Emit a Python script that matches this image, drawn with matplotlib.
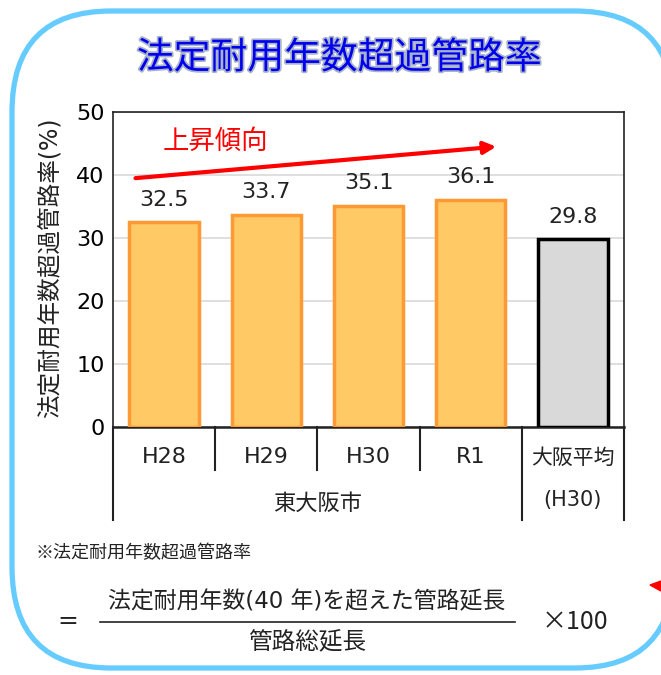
import numpy as np
import matplotlib
matplotlib.use("Agg")
from matplotlib import pyplot as plt
from matplotlib.patches import FancyBboxPatch, Polygon
import matplotlib.patheffects as pe
import matplotlib.transforms as mtransforms

plt.rcParams['font.family'] = ['DejaVu Sans', 'Noto Sans CJK JP']
CJK = ['Noto Sans CJK JP', 'DejaVu Sans']

years = ["H28", "H29", "H30", "R1"]
city_rates = [32.5, 33.7, 35.1, 36.1]
osaka_label = ["大阪平均", "(H30)"]
osaka_rate = 29.8
group_label = "東大阪市"
yticks = [0, 10, 20, 30, 40, 50]

W, H = 661, 675
fig = plt.figure(figsize=(W / 100, H / 100), dpi=100)

# rounded frame around everything
frame = FancyBboxPatch((12 / W, 7 / H), 662 / W, 657 / H,
                       boxstyle="round,pad=0,rounding_size=0.15",
                       transform=fig.transFigure, facecolor="white",
                       edgecolor="#66CCFF", linewidth=3.8, zorder=-5)
fig.patches.append(frame)
fig.patches.append(Polygon([[650 / W, 1 - 585 / H], [661 / W, 1 - 581 / H],
                            [661 / W, 1 - 591 / H]], closed=True,
                           transform=fig.transFigure, color="#FF0000"))

fig.text(339 / W, 1 - 58 / H, "法定耐用年数超過管路率", ha="center", va="center",
         fontsize=26.5, color="#0000EE", family=CJK,
         path_effects=[pe.withStroke(linewidth=2.5, foreground="#A8B2C8")])

ax = fig.add_axes([113 / W, (H - 427) / H, 511 / W, 315 / H])
ax.set_xlim(-0.5, 4.5)
ax.set_ylim(0, 50)

x = np.arange(len(years))
ax.bar(x, city_rates, width=0.68, color="#FFC966", edgecolor="#FF9933",
       linewidth=2.5, zorder=3)
ax.bar([4], [osaka_rate], width=0.68, color="#D9D9D9", edgecolor="black",
       linewidth=2.5, zorder=3)

for xi, v in zip(list(x) + [4], city_rates + [osaka_rate]):
    ax.text(xi, v + 2.0, f"{v:.1f}", ha="center", va="bottom", fontsize=16,
            color="#222222")

ax.set_yticks(yticks)
ax.tick_params(axis="y", length=0, labelsize=16, pad=6)
ax.set_xticks([])
ax.yaxis.grid(True, color="#D9D9D9", linewidth=1.2, zorder=0)
for s in ax.spines.values():
    s.set_color("#222222")
    s.set_linewidth(1.2)
ax.spines["bottom"].set_linewidth(1.8)

# trend arrow
ax.annotate("", xy=(3.25, 44.5), xytext=(-0.28, 39.5),
            arrowprops=dict(arrowstyle="-|>", color="#FF0000", lw=3,
                            mutation_scale=18, shrinkA=0, shrinkB=0))
ax.text(0.5, 45.3, "上昇傾向", color="#FF0000", fontsize=19,
        ha="center", va="center")

# category table under the axis
trans = mtransforms.blended_transform_factory(ax.transData, ax.transAxes)
y_mid = -43 / 315
y_bot = -93 / 315
for d in [0.5, 1.5, 2.5]:
    ax.plot([d, d], [0, y_mid], transform=trans, color="#222222", lw=1.5,
            clip_on=False)
for d in [-0.5, 3.5, 4.5]:
    ax.plot([d, d], [0, y_bot], transform=trans, color="#222222", lw=1.5,
            clip_on=False)
for xi, lab in zip(x, years):
    ax.text(xi, -30 / 315, lab, transform=trans, ha="center", va="center",
            fontsize=16, color="#222222")
ax.text(1.5, -76 / 315, group_label, transform=trans, ha="center",
        va="center", fontsize=16, color="#222222")
ax.text(4, -31 / 315, osaka_label[0], transform=trans, ha="center",
        va="center", fontsize=15, color="#222222")
ax.text(4, -73 / 315, osaka_label[1], transform=trans, ha="center",
        va="center", fontsize=15, color="#222222")

fig.text(50 / W, 1 - 268 / H, "法定耐用年数超過管路率(%)", rotation=90,
         ha="center", va="center", fontsize=17, color="#222222")

# formula note
fig.text(35 / W, 1 - 553 / H, "※法定耐用年数超過管路率", ha="left",
         va="center", fontsize=13, color="#222222", family=CJK)
fig.text(68 / W, 1 - 621 / H, "=", ha="center", va="center", fontsize=18,
         color="#222222")
fig.text(307 / W, 1 - 602 / H, "法定耐用年数(40 年)を超えた管路延長",
         ha="center", va="center", fontsize=16.5, color="#222222")
fig.add_artist(plt.Line2D([100 / W, 515 / W], [1 - 622 / H, 1 - 622 / H],
                          color="#222222", lw=1.2))
fig.text(307 / W, 1 - 641 / H, "管路総延長", ha="center", va="center",
         fontsize=17, color="#222222")
fig.text(575 / W, 1 - 622 / H, "×100", ha="center", va="center",
         fontsize=18, color="#222222", family=CJK)

fig.savefig("out.png", dpi=100)
